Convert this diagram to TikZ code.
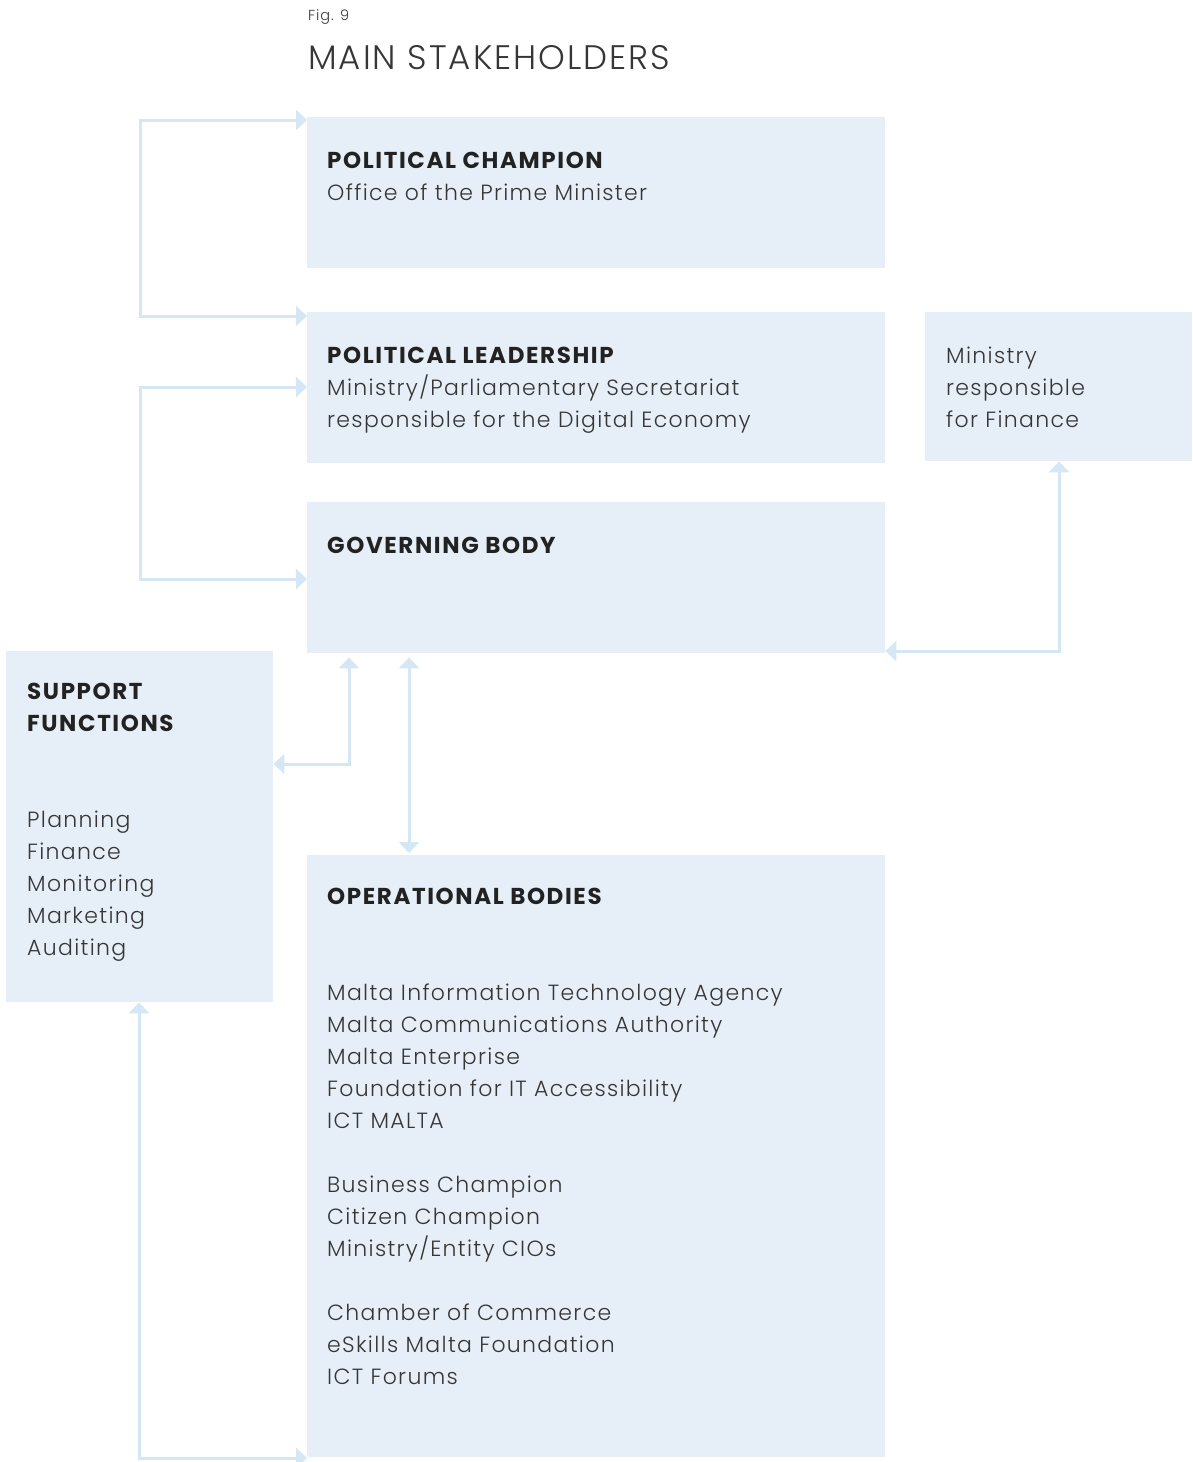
\documentclass[tikz,border=0pt]{standalone}
\usepackage{fontspec}
\IfFontExistsTF{Poppins Light}{%
  \setmainfont{Poppins}[UprightFont=* Light, BoldFont=* Bold, LetterSpace=6, BoldFeatures={LetterSpace=7}]%
}{%
  \setmainfont{Poppins}[LetterSpace=6, BoldFeatures={LetterSpace=7}]%
}
\usetikzlibrary{arrows.meta,calc}
\definecolor{boxfill}{HTML}{E6EFF7}
\definecolor{arrc}{HTML}{D5E7F4}
\definecolor{txt}{HTML}{363636}
\definecolor{head}{HTML}{222222}
\newcommand{\hd}[1]{{\fontsize{23}{32}\selectfont\bfseries\color{head}#1}}
\newcommand{\fr}{\rule{0pt}{20pt}}
\begin{document}
\begin{tikzpicture}[x=1pt,y=-1pt,
  box/.style={fill=boxfill, draw=none, anchor=north west, inner sep=0pt},
  lbl/.style={anchor=north west, align=left, text=txt, inner sep=0pt,
              font=\fontsize{22}{32}\selectfont},
  conn/.style={draw=arrc, line width=3pt,
               {Triangle[width=20pt,length=11pt]}-{Triangle[width=20pt,length=11pt]}}]
\useasboundingbox (0,0) rectangle (1192,1462);
% title
\node[anchor=base west, inner sep=0pt, text=txt, font=\fontsize{14.5}{16}\selectfont] (fig) at (308,20) {Fig. 9};
\node[anchor=base west, inner sep=0pt, text=txt, font=\fontsize{34}{38}\selectfont] (title) at (308,69) {MAIN STAKEHOLDERS};
% boxes
\node[box, minimum width=578pt, minimum height=151pt] (pc) at (307,117) {};
\node[box, minimum width=578pt, minimum height=151pt] (pl) at (307,312) {};
\node[box, minimum width=267pt, minimum height=149pt] (mf) at (925,312) {};
\node[box, minimum width=578pt, minimum height=151pt] (gb) at (307,502) {};
\node[box, minimum width=267pt, minimum height=351pt] (sf) at (6,651) {};
\node[box, minimum width=578pt, minimum height=602pt] (ob) at (307,855) {};
% texts
\node[lbl] (pct) at (327,148) {\fr\hd{POLITICAL CHAMPION}\\Office of the Prime Minister};
\node[lbl] (plt) at (327,343) {\fr\hd{POLITICAL LEADERSHIP}\\Ministry/Parliamentary Secretariat\\responsible for the Digital Economy};
\node[lbl] (mft) at (946,343) {\fr Ministry\\responsible\\for Finance};
\node[lbl] (gbt) at (327,533) {\fr\hd{GOVERNING BODY}};
\node[lbl] (sft) at (27,679) {\fr\hd{SUPPORT}\\\hd{FUNCTIONS}\\[64pt]Planning\\Finance\\Monitoring\\Marketing\\Auditing};
\node[lbl] (obt) at (327,884) {\fr\hd{OPERATIONAL BODIES}\\[64pt]Malta Information Technology Agency\\Malta Communications Authority\\Malta Enterprise\\Foundation for IT Accessibility\\ICT MALTA\\[32pt]Business Champion\\Citizen Champion\\Ministry/Entity CIOs\\[32pt]Chamber of Commerce\\eSkills Malta Foundation\\ICT Forums};
% connectors
\coordinate (k1) at (140,120);
\coordinate (k2) at (140,316);
\draw[conn] (pc.west |- k1) -- (k1) -- (k2) -- (pl.west |- k2);
\coordinate (k3) at (140,387);
\coordinate (k4) at (140,579);
\draw[conn] (pl.west |- k3) -- (k3) -- (k4) -- (gb.west |- k4);
\coordinate (k5) at (1059,651);
\draw[conn] (gb.east |- k5) -- (k5) -- (k5 |- mf.south);
\coordinate (k6) at (349,764);
\draw[conn] ($(gb.south west)+(42,4)$) -- (k6) -- (sf.east |- k6);
\draw[conn] ($(gb.south west)+(102,4)$) -- ($(ob.north west)+(102,-2)$);
\coordinate (k7) at (139,1458);
\draw[conn] (sf.south -| k7) -- (k7) -- (ob.west |- k7);
\end{tikzpicture}
\end{document}
